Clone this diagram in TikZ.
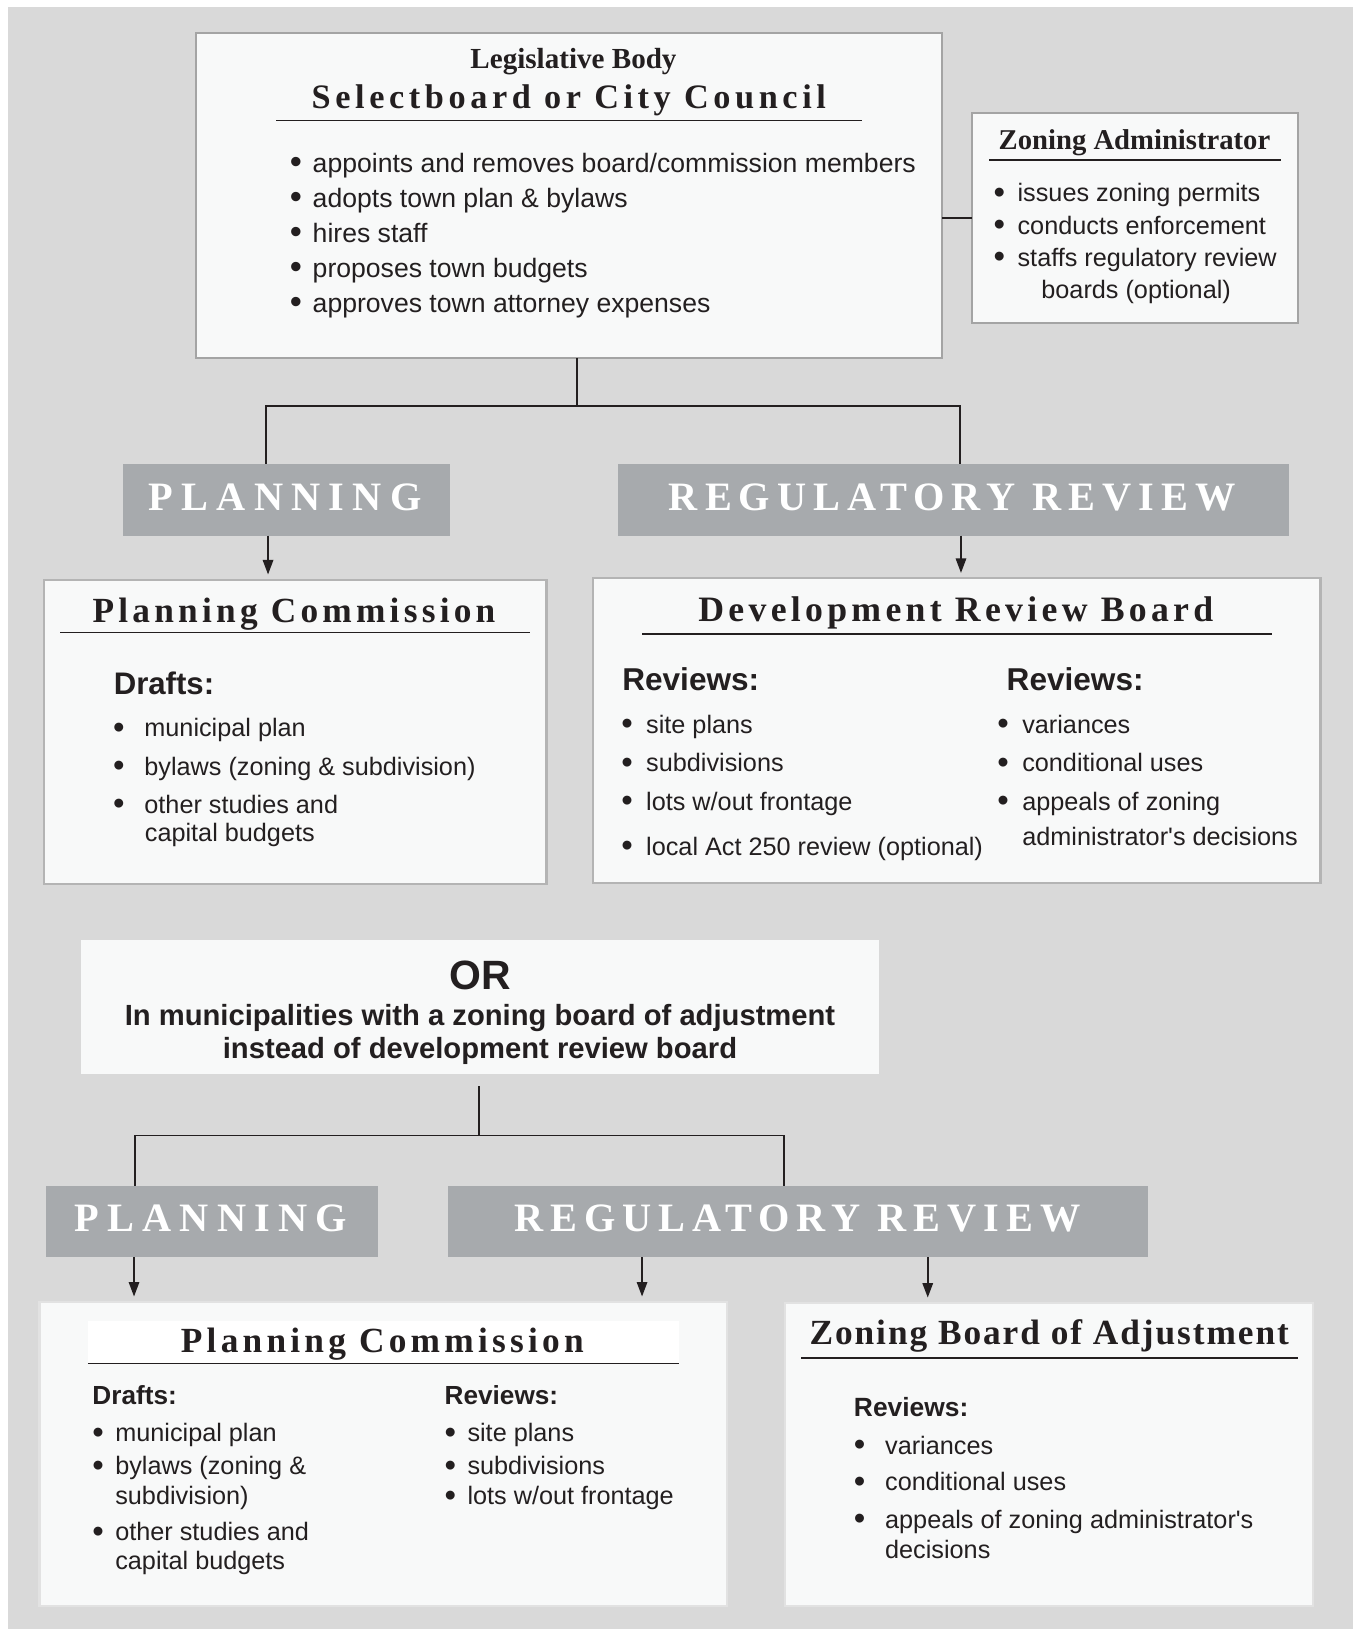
\documentclass[tikz,border=0pt]{standalone}
\usepackage{graphicx}
\usepackage{fontspec}
\setmainfont{Liberation Sans}
\newfontfamily\serA{Liberation Serif}
\newfontfamily\serB[LetterSpace=5.5]{Liberation Serif}
\newfontfamily\serC[LetterSpace=12]{Liberation Serif}
\newfontfamily\serS[LetterSpace=13.4]{Liberation Serif}
\newfontfamily\serD[LetterSpace=17.3]{Liberation Serif}
\newfontfamily\serE[LetterSpace=20.5]{Liberation Serif}
\usetikzlibrary{fit,arrows.meta}
\definecolor{bg}{HTML}{D9D9D9}
\definecolor{boxfill}{HTML}{F8F9F9}
\definecolor{boxline}{HTML}{A4A4A4}
\definecolor{boxlineb}{HTML}{B4B4B4}
\definecolor{boxlinec}{HTML}{E2E2E2}
\definecolor{graybox}{HTML}{A7AAAD}
\definecolor{ink}{HTML}{231F20}
\newcommand\fs[1]{\fontsize{#1}{#1}\selectfont}
\newcommand\bigbul{\hspace*{-2.5pt}\raisebox{-0.06em}{\scalebox{1.3}{\textbullet}}}
\newcommand\bitem[6][]{\node[txt,lst,#1] (#2) at (#3,#4) {\makebox[#5][l]{\bigbul}#6};}
\newcommand\contline[5][]{\node[txt,lst,#1] (#2) at (#3,#4) {#5};}
\begin{document}
\begin{tikzpicture}[x=0.5pt,y=-0.5pt,
  box/.style={draw=boxline,line width=1pt,fill=boxfill,inner sep=0pt,outer sep=0pt},
  boxb/.style={box,draw=boxlineb},
  boxc/.style={box,draw=boxlinec},
  gbox/.style={fill=graybox,inner sep=0pt,outer sep=0pt},
  txt/.style={inner sep=0pt,outer sep=0pt,text=ink},
  lst/.style={anchor=mid west,yshift=-1.5pt},
  ftop/.style={font=\fs{12.8}},
  fbody/.style={font=\fs{12.15}},
  uline/.style={draw=ink,line width=0.65pt},
  conn/.style={draw=ink,line width=0.9pt},
  arr/.style={conn,-{Triangle[length=7pt,width=5pt]},shorten >=2.5pt},
  gtext/.style={inner sep=0pt,outer sep=0pt,text=white,anchor=base}]
\useasboundingbox (0,0) rectangle (1302,1568);
\fill[white] (0,0) rectangle (1302,1568);
\fill[bg] (7.7,6.4) rectangle (1302,1568);

% ---------- top box
\node[box,fit={(189,31.4)(907,344.8)}] (top) {};
\node[txt,anchor=base,font=\serA\bfseries\fs{14}] (leg) at (552,65.8) {Legislative Body};
\node[txt,anchor=base,font=\serS\bfseries\fs{16.5}] (sel) at (547.5,104) {Selectboard or City Council};
\draw[uline] (266,116) -- (830,116);
\bitem[ftop]{t1}{284}{157.5}{8.5pt}{appoints and removes board/commission members}
\bitem[ftop]{t2}{284}{191.2}{8.5pt}{adopts town plan \& bylaws}
\bitem[ftop]{t3}{284}{224.9}{8.5pt}{hires staff}
\bitem[ftop]{t4}{284}{258.6}{8.5pt}{proposes town budgets}
\bitem[ftop]{t5}{284}{292.3}{8.5pt}{approves town attorney expenses}

% ---------- zoning administrator
\node[box,fit={(936,109)(1249,310.5)}] (za) {};
\node[txt,anchor=base,font=\serA\bfseries\fs{13.8}] (zat) at (1092,144.3) {Zoning Administrator};
\draw[uline] (952,154) -- (1233,154);
\bitem[fbody]{z1}{961.5}{186}{9pt}{issues zoning permits}
\bitem[fbody]{z2}{961.5}{217}{9pt}{conducts enforcement}
\bitem[fbody]{z3}{961.5}{248}{9pt}{staffs regulatory review}
\contline[fbody]{z4}{1002.4}{279}{boards (optional)}
\draw[conn] (top.east |- 0,210) -- (za.west |- 0,210);

% ---------- upper tree
\node[gbox,fit={(118,446.5)(433,515.5)}] (plan1) {};
\node[gtext,font=\serE\bfseries\fs{19.4}] (plan1t) at (274.5,491) {PLANNING};
\node[gbox,fit={(595,446.5)(1241,515.5)}] (reg1) {};
\node[gtext,font=\serD\bfseries\fs{19.4}] (reg1t) at (916.5,491) {REGULATORY REVIEW};
\coordinate (j1) at (555,390.7);
\coordinate (h1l) at (256,390.7);
\coordinate (h1r) at (924,390.7);
\draw[conn] (j1 |- top.south) -- (j1);
\draw[conn] (h1l |- plan1.north) -- (h1l) -- (h1r) -- (h1r |- reg1.north);

% ---------- planning commission 1
\node[boxb,fit={(42,558)(526,851)}] (pc1) {};
\node[txt,anchor=base,font=\serC\bfseries\fs{17}] (pc1t) at (283,599.2) {Planning Commission};
\draw[uline] (58,609) -- (510,609);
\node[txt,anchor=base west,font=\bfseries\fs{15}] (pc1d) at (109.5,668.8) {Drafts:};
\bitem[fbody]{p1}{114}{700.9}{12.5pt}{municipal plan}
\bitem[fbody]{p2}{114}{737.7}{12.5pt}{bylaws (zoning \& subdivision)}
\bitem[fbody]{p3}{114}{774.6}{12.5pt}{other studies and}
\contline[fbody]{p4}{139.5}{801.9}{capital budgets}

% ---------- development review board
\node[boxb,fit={(571,556.5)(1271,850)}] (drb) {};
\node[txt,anchor=base,font=\serC\bfseries\fs{17.2}] (drbt) at (920,598.2) {Development Review Board};
\draw[uline] (618,610.4) -- (1224.7,610.4);
\node[txt,anchor=base west,font=\bfseries\fs{15.2}] (drbr1) at (599,664.6) {Reviews:};
\node[txt,anchor=base west,font=\bfseries\fs{15.2}] (drbr2) at (969,664.6) {Reviews:};
\bitem[fbody]{d1}{603}{697.6}{9.5pt}{site plans}
\bitem[fbody]{d2}{603}{734.5}{9.5pt}{subdivisions}
\bitem[fbody]{d3}{603}{771.4}{9.5pt}{lots w/out frontage}
\bitem[fbody]{d4}{603}{814.7}{9.5pt}{local Act 250 review (optional)}
\bitem[fbody]{e1}{965}{697.6}{9.5pt}{variances}
\bitem[fbody]{e2}{965}{734.5}{9.5pt}{conditional uses}
\bitem[fbody]{e3}{965}{771.4}{9.5pt}{appeals of zoning}
\contline[fbody]{e4}{984}{805.1}{administrator\textquotesingle s decisions}

\coordinate (a1) at (258,530);
\coordinate (a2) at (925,530);
\draw[arr] (a1 |- plan1.south) -- (a1 |- pc1.north);
\draw[arr] (a2 |- reg1.south) -- (a2 |- drb.north);

% ---------- OR box
\node[fill=boxfill,inner sep=0pt,outer sep=0pt,fit={(78,904.5)(846,1033.5)}] (orb) {};
\node[txt,anchor=base,font=\bfseries\fs{19.7}] (ort) at (462,952.6) {OR};
\node[txt,anchor=base,font=\bfseries\fs{14.05}] (or1) at (462,987.3) {In municipalities with a zoning board of adjustment};
\node[txt,anchor=base,font=\bfseries\fs{14.05}] (or2) at (462,1018.4) {instead of development review board};

% ---------- lower tree
\node[gbox,fit={(44,1141.3)(364,1210.2)}] (plan2) {};
\node[gtext,font=\serE\bfseries\fs{19.4}] (plan2t) at (203,1185.2) {PLANNING};
\node[gbox,fit={(431,1141.3)(1105,1210.2)}] (reg2) {};
\node[gtext,font=\serD\bfseries\fs{19.4}] (reg2t) at (767.5,1185.2) {REGULATORY REVIEW};
\coordinate (j2) at (461,1045.7);
\coordinate (h2) at (461,1093);
\coordinate (h2l) at (130,1093);
\coordinate (h2r) at (755,1093);
\draw[conn] (j2) -- (h2);
\draw[conn] (h2l |- plan2.north) -- (h2l) -- (h2r) -- (h2r |- reg2.north);

% ---------- planning commission 2
\node[boxc,fit={(38,1253)(700,1546)}] (pc2) {};
\node[fill=white,inner sep=0pt,outer sep=0pt,fit={(84.7,1271.8)(654,1312.6)}] (pc2band) {};
\node[txt,anchor=base,font=\serC\bfseries\fs{17}] (pc2t) at (368,1302.3) {Planning Commission};
\draw[uline] (84.7,1312.6) -- (654,1312.6);
\node[txt,anchor=base west,font=\bfseries\fs{12.6}] (pc2d) at (89,1352) {Drafts:};
\bitem[fbody]{q1}{94}{1379.3}{8.5pt}{municipal plan}
\bitem[fbody]{q2}{94}{1411.4}{8.5pt}{bylaws (zoning \&}
\contline[fbody]{q3}{111}{1440.2}{subdivision)}
\bitem[fbody]{q4}{94}{1474.8}{8.5pt}{other studies and}
\contline[fbody]{q5}{111}{1502.8}{capital budgets}
\node[txt,anchor=base west,font=\bfseries\fs{12.6}] (pc2r) at (428,1352) {Reviews:};
\bitem[fbody]{r1}{433}{1379.3}{8.5pt}{site plans}
\bitem[fbody]{r2}{433}{1411.4}{8.5pt}{subdivisions}
\bitem[fbody]{r3}{433}{1440.2}{8.5pt}{lots w/out frontage}

% ---------- zoning board of adjustment
\node[boxc,fit={(756,1254)(1264,1546)}] (zba) {};
\node[txt,anchor=base,font=\serB\bfseries\fs{17}] (zbat) at (1010,1294.3) {Zoning Board of Adjustment};
\draw[uline] (771,1307.1) -- (1249,1307.1);
\node[txt,anchor=base west,font=\bfseries\fs{12.7}] (zbar) at (822,1363.2) {Reviews:};
\bitem[fbody]{s1}{827}{1391.4}{12.5pt}{variances}
\bitem[fbody]{s2}{827}{1426.7}{12.5pt}{conditional uses}
\bitem[fbody]{s3}{827}{1462.7}{12.5pt}{appeals of zoning administrator\textquotesingle s}
\contline[fbody]{s4}{852}{1491.5}{decisions}

\coordinate (a3) at (129,1230);
\coordinate (a4) at (618,1230);
\coordinate (a5) at (893,1230);
\draw[arr] (a3 |- plan2.south) -- (a3 |- pc2.north);
\draw[arr] (a4 |- reg2.south) -- (a4 |- pc2.north);
\draw[arr] (a5 |- reg2.south) -- (a5 |- zba.north);
\end{tikzpicture}
\end{document}
